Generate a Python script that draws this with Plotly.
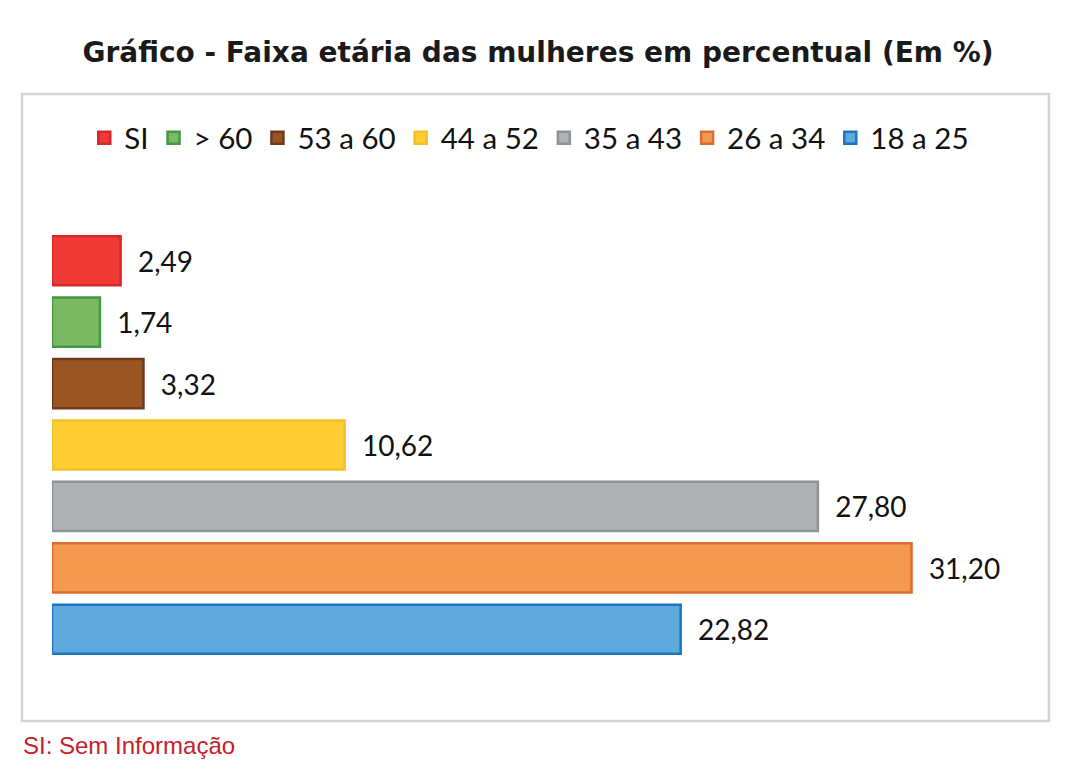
import plotly.graph_objects as go

# faixas etarias, de cima para baixo no grafico
faixas = ["SI", "> 60", "53 a 60", "44 a 52", "35 a 43", "26 a 34", "18 a 25"]
percentual = [2.49, 1.74, 3.32, 10.62, 27.80, 31.20, 22.82]
rotulos = ["2,49", "1,74", "3,32", "10,62", "27,80", "31,20", "22,82"]

cores = ["#EF3A36", "#7DB962", "#9A5422", "#FFCD33", "#AEB2B5", "#F39A4E", "#5EAADE"]
bordas = ["#D8262C", "#3E9A45", "#6C3B1B", "#F2BE2A", "#8D9295", "#DD6C2C", "#1B77BD"]

fig = go.Figure()
for i in range(len(faixas)):
    fig.add_trace(go.Bar(
        y=[faixas[i]], x=[percentual[i]], orientation="h",
        name=faixas[i], width=0.8,
        marker=dict(color=cores[i], line=dict(color=bordas[i], width=2.5)),
        text=["\u00a0\u00a0" + rotulos[i]], textposition="outside",
        textfont=dict(family="Lato", size=28, color="#111111"),
        cliponaxis=False,
    ))

fig.update_layout(
    width=1083, height=772,
    paper_bgcolor="white", plot_bgcolor="white",
    margin=dict(l=44, r=61, t=222, b=120),
    barmode="overlay",
    showlegend=True,
    title=dict(text="<b>Gráfico - Faixa etária das mulheres em percentual (Em %)</b>",
               x=0.4894, xanchor="center", y=0.943, yanchor="middle",
               font=dict(family="DejaVu Sans", size=28, color="#1a1a1a")),
    legend=dict(orientation="h", x=0.033, xanchor="left", y=1.214, yanchor="middle",
                font=dict(family="Lato", size=29.5, color="#111111"),
                traceorder="normal", itemclick=False),
    xaxis=dict(range=[0, 35.5], visible=False),
    yaxis=dict(categoryorder="array", categoryarray=faixas[::-1],
               range=[-0.5, 6.5], visible=False),
)

# moldura do grafico
fig.add_shape(type="rect", xref="paper", yref="paper",
              x0=-0.0307, x1=1.0194, y0=-0.1419, y1=1.3163,
              line=dict(color="#D2D5D7", width=2.5), layer="below")

fig.add_annotation(text="SI: Sem Informação", xref="paper", yref="paper",
                   x=-0.032, y=-0.198, xanchor="left", yanchor="middle",
                   showarrow=False,
                   font=dict(family="Liberation Sans", size=24, color="#C8202A"))

fig.write_html("out.html")
